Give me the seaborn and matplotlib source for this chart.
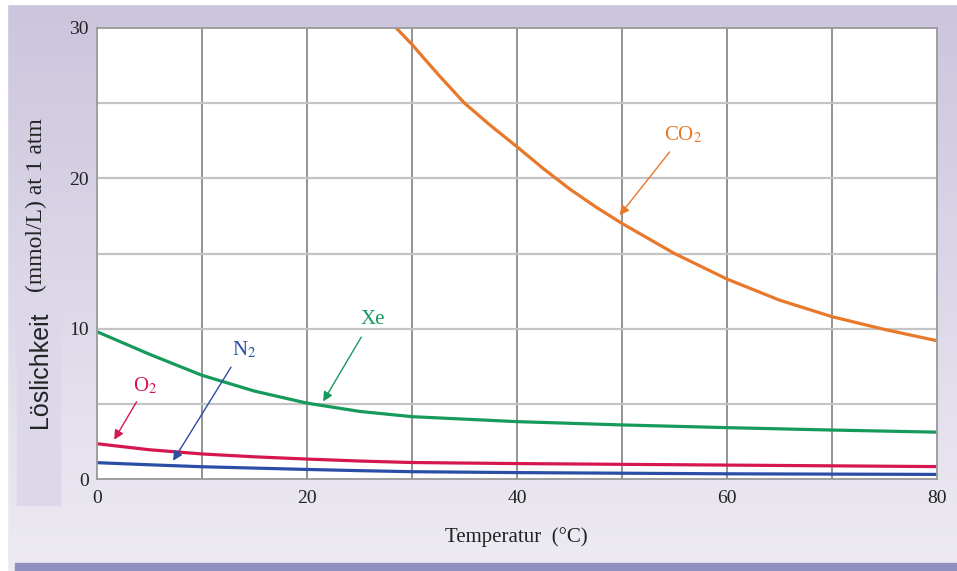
"""
Löslichkeit von Gasen in Wasser gegen Temperatur (CO2, Xe, O2, N2)
"""

import matplotlib.pyplot as plt
import numpy as np
import pandas as pd
import seaborn as sns

# readings from the reference chart
co2_temp = [28.5, 30, 32.5, 35, 37.5, 40, 42.5, 45, 47.5, 50, 55, 60, 65, 70, 75, 80]
co2_sol = [30.0, 28.9, 26.9, 25.0, 23.5, 22.1, 20.65, 19.3, 18.1, 17.0, 15.0, 13.3, 11.9, 10.8, 9.95, 9.2]

xe_temp = [0, 5, 10, 15, 20, 25, 30, 40, 50, 60, 70, 80]
xe_sol = [9.8, 8.3, 6.9, 5.85, 5.05, 4.5, 4.15, 3.82, 3.6, 3.42, 3.26, 3.12]

o2_temp = [0, 5, 10, 15, 20, 25, 30, 40, 50, 60, 70, 80]
o2_sol = [2.35, 1.95, 1.67, 1.48, 1.33, 1.2, 1.1, 1.03, 0.98, 0.93, 0.88, 0.83]

n2_temp = [0, 5, 10, 15, 20, 25, 30, 40, 50, 60, 70, 80]
n2_sol = [1.09, 0.95, 0.82, 0.73, 0.64, 0.56, 0.49, 0.43, 0.39, 0.35, 0.33, 0.31]

gas_colors = {'CO2': '#e8782a', 'Xe': '#159a5c', 'O2': '#d6174f', 'N2': '#2a4ea6'}

frames = []
for gas, t, s in [('CO2', co2_temp, co2_sol), ('Xe', xe_temp, xe_sol),
                  ('O2', o2_temp, o2_sol), ('N2', n2_temp, n2_sol)]:
    frames.append(pd.DataFrame({'Temperatur': t, 'Loeslichkeit': s, 'Gas': gas}))
df = pd.concat(frames, ignore_index=True)

sns.set_style('white')
plt.rcParams['font.family'] = ['Liberation Serif', 'DejaVu Serif']
plt.rcParams['mathtext.fontset'] = 'stix'

fig = plt.figure(figsize=(9.57, 5.71), dpi=100)

# lavender gradient background
bg = fig.add_axes([0, 0, 1, 1], zorder=-10)
grad = np.linspace(0, 1, 256).reshape(-1, 1)
top_c = np.array([0.80, 0.77, 0.87])
bot_c = np.array([0.93, 0.92, 0.95])
img = top_c[None, None, :] * (1 - grad[:, :, None]) + bot_c[None, None, :] * grad[:, :, None]
bg.imshow(img, aspect='auto', extent=[0, 1, 0, 1], origin='upper')
bg.add_patch(plt.Rectangle((0, 0), 0.007, 1, color='white'))
bg.add_patch(plt.Rectangle((0, 0.993), 1, 0.007, color='white'))
bg.add_patch(plt.Rectangle((0.016, 0.0), 0.984, 0.014, color='#8f8fc2'))
bg.add_patch(plt.Rectangle((0.018, 0.115), 0.045, 0.355, color='#ddd8e9'))
bg.set_xlim(0, 1)
bg.set_ylim(0, 1)
bg.axis('off')

ax = fig.add_axes([0.1014, 0.161, 0.8777, 0.79])
ax.set_facecolor('white')

sns.lineplot(data=df, x='Temperatur', y='Loeslichkeit', hue='Gas',
             palette=gas_colors, legend=False, linewidth=2.3, ax=ax,
             estimator=None, sort=True)

ax.set_xlim(0, 80)
ax.set_ylim(0, 30)
ax.set_xticks([0, 20, 40, 60, 80])
ax.set_yticks([0, 10, 20, 30])
for xv in range(10, 80, 10):
    ax.axvline(xv, color='#8a8a8a', linewidth=1.3, zorder=0)
for yv in range(5, 30, 5):
    ax.axhline(yv, color='#c4c4c4', linewidth=1.6, zorder=0)
for sp in ax.spines.values():
    sp.set_color('#999999')
    sp.set_linewidth(1.3)
ax.tick_params(axis='both', length=0, labelsize=14, colors='#222222')
ax.tick_params(axis='x', pad=8)
ax.tick_params(axis='y', pad=6)
ax.set_xlabel('')
ax.set_ylabel('')

# annotations with arrows
notes = [('CO$_2$', (55.8, 22.9), (49.6, 17.4), 'CO2', (54.7, 21.9)),
         ('Xe', (26.3, 10.6), (21.4, 5.0), 'Xe', (25.3, 9.6)),
         ('N$_2$', (14.0, 8.6), (7.1, 1.06), 'N2', (12.9, 7.6)),
         ('O$_2$', (4.6, 6.2), (1.5, 2.46), 'O2', (3.9, 5.3))]
for label, txt_pos, tip, gas, tail in notes:
    c = gas_colors[gas]
    ax.text(txt_pos[0], txt_pos[1], label, color=c, fontsize=15,
            ha='center', va='center')
    ax.annotate('', xy=tip, xytext=tail,
                arrowprops=dict(arrowstyle='-|>', color=c, lw=1.0,
                                mutation_scale=14))

fig.text(0.54, 0.06, 'Temperatur  (°C)', fontsize=15, ha='center',
         va='center', color='#222222')
fig.text(0.038, 0.64, '(mmol/L) at 1 atm', fontsize=17, rotation=90,
         ha='center', va='center', color='#222222')
fig.text(0.042, 0.352, 'Löslichkeit', fontsize=18, rotation=90,
         ha='center', va='center', color='#222222',
         family=['Liberation Sans', 'DejaVu Sans'])

fig.savefig('out.png', dpi=100)
